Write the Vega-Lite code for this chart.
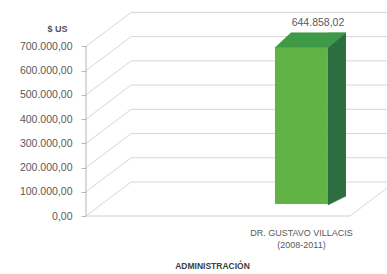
{
  "$schema": "https://vega.github.io/schema/vega-lite/v6.json",
  "width": 301,
  "height": 189,
  "autosize": "none",
  "padding": {"left": 86, "top": 27, "right": 0, "bottom": 58},
  "background": "white",
  "config": {
    "view": {"stroke": null},
    "font": "Liberation Sans",
    "locale": {"number": {"decimal": ",", "thousands": ".", "grouping": [3], "currency": ["$", ""]}},
    "axisY": {
      "tickCount": 9,
      "titleAngle": 0,
      "titleX": -29,
      "titleY": 1,
      "titleAlign": "center",
      "titleBaseline": "middle",
      "titleFontSize": 9,
      "titleFontWeight": "bold",
      "titleColor": "#505050",
      "grid": false,
      "domain": false,
      "tickColor": "#b8b8b8",
      "tickSize": 5,
      "labelPadding": 9,
      "labelFontSize": 10.5,
      "labelColor": "#595959",
      "labelOverlap": false,
      "format": ",.2f"
    }
  },
  "datasets": {
    "frame": [
      {"v": 0}, {"v": 100000}, {"v": 200000}, {"v": 300000},
      {"v": 400000}, {"v": 500000}, {"v": 600000}, {"v": 700000}
    ],
    "main": [
      {"admin": "DR. GUSTAVO VILLACIS (2008-2011)", "value": 644858.02}
    ]
  },
  "layer": [
    {
      "data": {"name": "frame"},
      "layer": [
        {
          "mark": {"type": "rule", "color": "#d6d6d6", "strokeWidth": 1, "yOffset": -34},
          "encoding": {
            "x": {"datum": 15, "type": "quantitative", "scale": {"domain": [0, 100], "nice": false}, "axis": null},
            "x2": {"datum": 100},
            "y": {"field": "v", "type": "quantitative", "title": "$ US", "scale": {"domain": [0, 780000], "nice": false}}
          }
        },
        {
          "mark": {"type": "rule", "color": "#d6d6d6", "strokeWidth": 1, "y2Offset": -34},
          "encoding": {
            "x": {"datum": 0, "type": "quantitative", "scale": {"domain": [0, 100], "nice": false}, "axis": null},
            "x2": {"datum": 15},
            "y": {"field": "v", "type": "quantitative", "title": "$ US"},
            "y2": {"field": "v"}
          }
        },
        {
          "mark": {"type": "rule", "color": "#b4b4b4", "strokeWidth": 1},
          "encoding": {
            "x": {"datum": 0, "type": "quantitative", "scale": {"domain": [0, 100], "nice": false}, "axis": null},
            "x2": {"datum": 0},
            "y": {"aggregate": "min", "field": "v", "type": "quantitative", "title": "$ US"},
            "y2": {"aggregate": "max", "field": "v"}
          }
        },
        {
          "transform": [{"filter": "datum.v == 0"}],
          "mark": {"type": "rule", "color": "#cfcfcf", "strokeWidth": 1},
          "encoding": {
            "x": {"datum": 0, "type": "quantitative", "scale": {"domain": [0, 100], "nice": false}, "axis": null},
            "x2": {"datum": 87.7},
            "y": {"field": "v", "type": "quantitative", "title": "$ US"}
          }
        },
        {
          "transform": [{"filter": "datum.v == 0"}],
          "mark": {"type": "rule", "color": "#d6d6d6", "strokeWidth": 1, "y2Offset": -34, "clip": true},
          "encoding": {
            "x": {"datum": 87.7, "type": "quantitative", "scale": {"domain": [0, 100], "nice": false}, "axis": null},
            "x2": {"datum": 102.7},
            "y": {"field": "v", "type": "quantitative", "title": "$ US"},
            "y2": {"field": "v"}
          }
        }
      ]
    },
    {
      "data": {"name": "main"},
      "encoding": {
        "x": {
          "field": "admin",
          "type": "nominal",
          "scale": {"paddingInner": 0.5726, "paddingOuter": 1, "align": 0.762},
          "axis": {
            "title": "ADMINISTRACIÓN",
            "titleFontSize": 8.5,
            "titleFontWeight": "bold",
            "titleColor": "#404040",
            "titleX": 126,
            "titleY": 49,
            "titleBaseline": "middle",
            "labelExpr": "[slice(datum.value, 0, 20), slice(datum.value, 21)]",
            "labelAngle": 0,
            "labelFontSize": 9,
            "labelLineHeight": 12,
            "labelColor": "#595959",
            "labelPadding": 12,
            "ticks": false,
            "domain": false
          }
        }
      },
      "layer": [
        {
          "mark": {"type": "bar", "color": "#2d6e41", "width": 18, "xOffset": 35.5, "yOffset": -27, "y2Offset": -20},
          "encoding": {
            "y": {"field": "value", "type": "quantitative", "title": "$ US"},
            "y2": {"datum": 0}
          }
        },
        {
          "mark": {"type": "point", "shape": "M26.5,-20L44.5,-20L26.5,-11Z", "size": 4, "filled": true, "opacity": 1, "color": "#2d6e41", "stroke": "#2d6e41", "strokeWidth": 0.5},
          "encoding": {
            "y": {"datum": 0, "type": "quantitative", "title": "$ US"}
          }
        },
        {
          "mark": {"type": "bar", "color": "#62b346", "yOffset": -12, "y2Offset": -12},
          "encoding": {
            "y": {"field": "value", "type": "quantitative", "title": "$ US"},
            "y2": {"datum": 0}
          }
        },
        {
          "mark": {"type": "point", "shape": "M-26.5,-12L26.5,-12L44.5,-27L-10.5,-27Z", "size": 4, "filled": true, "opacity": 1, "color": "#3f9a47", "stroke": "#3f9a47", "strokeWidth": 0.5},
          "encoding": {
            "y": {"field": "value", "type": "quantitative", "title": "$ US"}
          }
        },
        {
          "mark": {"type": "text", "dx": 16.5, "dy": -37, "fontSize": 10.5, "color": "#595959", "baseline": "middle", "align": "center"},
          "encoding": {
            "y": {"field": "value", "type": "quantitative", "title": "$ US"},
            "text": {"field": "value", "type": "quantitative", "format": ",.2f"}
          }
        }
      ]
    }
  ],
  "resolve": {"scale": {"x": "independent"}}
}
